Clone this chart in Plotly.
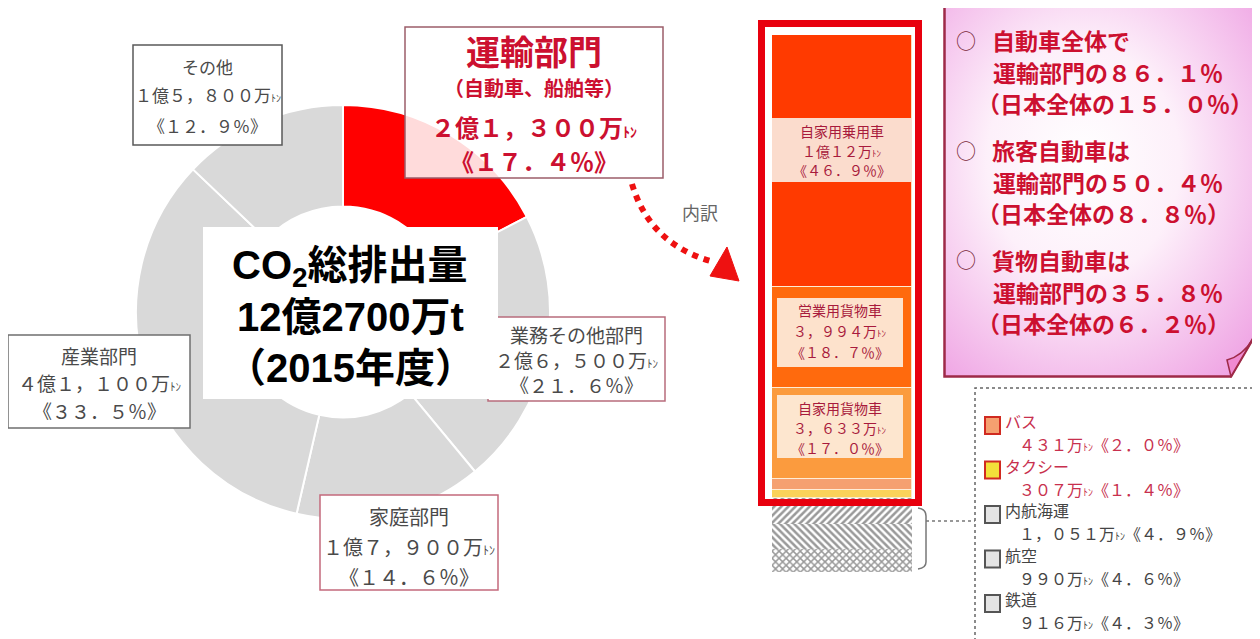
import base64
import plotly.graph_objects as go

# ---------------- data ----------------
sectors = ["運輸部門", "業務その他部門", "家庭部門", "産業部門", "その他"]
sector_amounts = [21300, 26500, 17900, 41100, 15800]      # 万トン
sector_share = [17.4, 21.6, 14.6, 33.5, 12.9]             # %
transport_note = "（自動車、船舶等）"

modes = ["自家用乗用車", "営業用貨物車", "自家用貨物車", "バス", "タクシー", "内航海運", "航空", "鉄道"]
mode_amounts = [10012, 3994, 3633, 431, 307, 1051, 990, 916]   # 万トン
mode_share = [46.9, 18.7, 17.0, 2.0, 1.4, 4.9, 4.6, 4.3]       # 運輸部門に占める%

summary_heads = ["自動車全体で", "旅客自動車は", "貨物自動車は"]
summary_transport = [86.1, 50.4, 35.8]
summary_japan = [15.0, 8.8, 6.2]

total_lines = ["CO<sub>2</sub>総排出量", "12億2700万t", "（2015年度）"]
breakdown_label = "内訳"

# ---------------- styles ----------------
OFF = 8                      # page body margin of the html page
W, H = 1260 - OFF, 639 - OFF
FONT = "Noto Sans CJK JP"
TITLE_FONT = "Liberation Sans, Arial, Noto Sans CJK JP"
GRAY_TXT = "#4a4a4a"
RED_TXT = "#cc1030"
BAR_TXT = "#a81a3c"

sector_colors = ["#ff0000", "#d9d9d9", "#d9d9d9", "#d9d9d9", "#d9d9d9"]
mode_colors = ["#ff3a00", "#ff6a0d", "#fb9b3e", "#f5a070", "#fad25a", "#ffffff", "#ffffff", "#ffffff"]
mode_patterns = ["", "", "", "", "", "/", "\\", "x"]
swatch_fill = ["#f5a070", "#f3e03a", "#e4e4e4", "#e4e4e4", "#e4e4e4"]
swatch_line = ["#d02a20", "#d02a20", "#555555", "#555555", "#555555"]
legend_txt = ["#c8304e", "#c8304e", "#444444", "#444444", "#444444"]


def px(x):
    return (x - OFF) / W


def py(y):
    return 1 - (y - OFF) / H


FWT = str.maketrans("0123456789,.%", "０１２３４５６７８９，．％")


def fw(s):
    return s.translate(FWT)


def ton(size):
    return f"<span style='font-size:{size}px'>ﾄﾝ</span>"


def amount_text(v):
    oku, man = divmod(v, 10000)
    return fw((f"{oku}億" if oku else "") + f"{man:,}万")


def pct_text(p):
    return "《" + fw(f"{p:.1f}%") + "》"


annotations = []
shapes = []


def text(x, y, s, size, color, bold=False, anchor="center", family=FONT):
    annotations.append(dict(
        x=px(x), y=py(y), xref="paper", yref="paper",
        text=(f"<b>{s}</b>" if bold else s), showarrow=False,
        xanchor=anchor, yanchor="middle",
        font=dict(family=family, size=size, color=color)))


def rect(x0, y0, x1, y1, line_color="rgba(0,0,0,0)", width=1.5,
         fill="rgba(0,0,0,0)", dash="solid", layer="above"):
    shapes.append(dict(
        type="rect", xref="paper", yref="paper",
        x0=px(x0), x1=px(x1), y0=py(y1), y1=py(y0),
        line=dict(color=line_color, width=width, dash=dash),
        fillcolor=fill, layer=layer))


def path(segments, color, width, dash="solid", fill="rgba(0,0,0,0)"):
    # segments: list of (cmd, [(x,y),...]) in pixel coords of the page
    d = []
    for cmd, pts in segments:
        d.append(cmd + " " + " ".join(f"{px(x):.5f},{py(y):.5f}" for x, y in pts))
    shapes.append(dict(type="path", xref="paper", yref="paper", path=" ".join(d).strip(),
                       line=dict(color=color, width=width, dash=dash),
                       fillcolor=fill, layer="above"))


fig = go.Figure()

# ---------------- donut ----------------
cx, cy, r = 343, 312, 207
fig.add_trace(go.Pie(
    values=sector_share, labels=sectors, sort=False, direction="clockwise",
    rotation=0, hole=0.51, textinfo="none", showlegend=False,
    marker=dict(colors=sector_colors, line=dict(color="white", width=2)),
    domain=dict(x=[px(cx - r), px(cx + r)], y=[py(cy + r), py(cy - r)])))

# ---------------- stacked bar (運輸部門の内訳) ----------------
for name, share, color, pat in zip(modes, mode_share, mode_colors, mode_patterns):
    fig.add_trace(go.Bar(
        x=["運輸部門"], y=[share], name=name, showlegend=False,
        marker=dict(color=color,
                    line=dict(color="rgba(255,236,214,0.9)", width=0 if pat else 1),
                    pattern=dict(shape=pat, fgcolor="#333333", bgcolor="#ffffff",
                                 size=5, solidity=0.5)),
        hovertemplate=f"{name}: %{{y}}%<extra></extra>"))

# ---------------- pie label boxes ----------------
sector_boxes = {
    "業務その他部門": dict(box=(488, 317, 665, 401), border="#b86c7c", size=19, ys=(334, 359, 384)),
    "家庭部門": dict(box=(320, 495, 498, 590), border="#c46a7c", size=20, ys=(516, 546, 576)),
    "産業部門": dict(box=(8, 335, 190, 428), border="#6f6f6f", size=19, ys=(355, 382, 410)),
    "その他": dict(box=(133, 45, 282, 145), border="#5a5a5a", size=17, ys=(66, 95, 125)),
}
for name, amt, share in zip(sectors, sector_amounts, sector_share):
    if name not in sector_boxes:
        continue
    b = sector_boxes[name]
    x0, y0, x1, y1 = b["box"]
    rect(x0, y0, x1, y1, b["border"], 1.5, fill="#ffffff")
    xc = (x0 + x1) / 2
    s = b["size"]
    text(xc, b["ys"][0], name, s, GRAY_TXT)
    text(xc, b["ys"][1], amount_text(amt) + ton(int(s * 0.6)), s, GRAY_TXT)
    text(xc, b["ys"][2], pct_text(share), s, GRAY_TXT)

# 運輸部門 highlighted box
rect(405, 27, 663, 178, "#9c5e6a", 1.5, fill="rgba(255,255,255,0.86)")
text(534, 50, sectors[0], 34, RED_TXT, bold=True)
text(534, 88, transport_note, 20, RED_TXT, bold=True)
text(534, 127, amount_text(sector_amounts[0]) + ton(14), 24, RED_TXT, bold=True)
text(534, 160, pct_text(sector_share[0]), 24, RED_TXT, bold=True)

# centre title box
rect(203, 227, 498, 399, fill="#ffffff")
for yy, line in zip((268, 317, 368), total_lines):
    text(350, yy, f"<b>{line}</b>", 40, "#000000", family=TITLE_FONT)

# ---------------- arrow ----------------
path([("M", [(632, 184)]), ("Q", [(650, 245), (714, 262)])], "#ee1111", 6, dash="dot")
path([("M", [(727, 247)]), ("L", [(739, 281)]), ("L", [(710, 276)]), ("Z", [])],
     "#ee1111", 1, fill="#ee1111")
text(700, 212, breakdown_label, 18, "#666666")

# ---------------- bar decorations ----------------
rect(772, 118, 912, 182, fill="#fbdccd", width=0)
for yy, s in zip((131, 151, 170), [modes[0], amount_text(mode_amounts[0]) + ton(9), pct_text(mode_share[0])]):
    text(842, yy, s, 14, BAR_TXT)
rect(777, 298, 903, 367, fill="#fde2cc", width=0)
for yy, s in zip((310, 331, 352), [modes[1], amount_text(mode_amounts[1]) + ton(9), pct_text(mode_share[1])]):
    text(840, yy, s, 14, BAR_TXT)
rect(777, 395, 903, 458, fill="#fde6cf", width=0)
for yy, s in zip((408, 428, 448), [modes[2], amount_text(mode_amounts[2]) + ton(9), pct_text(mode_share[2])]):
    text(840, yy, s, 14, BAR_TXT)

# red frame around 自動車
rect(761.5, 23.5, 918.5, 502.5, "#e8000e", 7)

# bracket + connector
path([("M", [(918, 508)]), ("Q", [(926, 509), (926, 516)]), ("L", [(926, 562)]),
      ("Q", [(926, 568), (918, 569)])], "#777777", 1.5)
path([("M", [(926, 521)]), ("L", [(975, 521)])], "#777777", 1.5, dash="3px,3px")

# ---------------- legend (dashed box) ----------------
rect(975, 388, 1256, 650, "#666666", 1.5, dash="3px,3px")
for i, k in enumerate(range(3, len(modes))):
    top = 417 + 44.5 * i
    rect(985, top, 1000, top + 17, swatch_line[i], 2, fill=swatch_fill[i])
    text(1003, top + 4, modes[k], 16, legend_txt[i], anchor="left")
    text(1017, top + 27, amount_text(mode_amounts[k]) + ton(10) + pct_text(mode_share[k]),
         16, legend_txt[i], anchor="left")

# ---------------- summary box ----------------
bw, bh = 312, 373
svg = f'''<svg xmlns="http://www.w3.org/2000/svg" width="{bw}" height="{bh}" viewBox="0 0 {bw} {bh}">
<defs><radialGradient id="g" cx="0.45" cy="0.42" r="0.78">
<stop offset="0" stop-color="#ffffff"/><stop offset="0.4" stop-color="#fdf0fa"/><stop offset="1" stop-color="#ee9ee2"/></radialGradient></defs>
<path d="M1.5,1.5 H{bw-1.5} V{bh-40} L{bw-24},{bh-1.5} H1.5 Z" fill="url(#g)" stroke="#9e2a48" stroke-width="2.5"/>
<path d="M{bw-24},{bh-1.5} L{bw-1.5},{bh-40} Q{bw-12},{bh-22} {bw-28},{bh-18} Z" fill="#f08ad2" stroke="#9e2a48" stroke-width="1.5"/>
</svg>'''
src = "data:image/svg+xml;base64," + base64.b64encode(svg.encode("utf-8")).decode("ascii")
images = [dict(source=src, xref="paper", yref="paper", x=px(943), y=py(5),
               sizex=bw / W, sizey=bh / H, xanchor="left", yanchor="top",
               sizing="stretch", layer="below")]

for i, (head, t, j) in enumerate(zip(summary_heads, summary_transport, summary_japan)):
    y0 = 40 + 110 * i
    text(966, y0, "○", 20, "#7a2a3a")
    text(990, y0, head, 23, RED_TXT, bold=True, anchor="left")
    text(991, y0 + 32, "運輸部門の" + fw(f"{t:.1f}%"), 23, RED_TXT, bold=True, anchor="left")
    text(975, y0 + 63, "（日本全体の" + fw(f"{j:.1f}%") + "）", 23, RED_TXT, bold=True, anchor="left")

fig.update_layout(
    width=W, height=H, margin=dict(l=0, r=0, t=0, b=0),
    paper_bgcolor="white", plot_bgcolor="rgba(0,0,0,0)",
    barmode="stack", bargap=0, showlegend=False,
    xaxis=dict(domain=[px(772), px(912)], range=[-0.5, 0.5], visible=False, fixedrange=True),
    yaxis=dict(domain=[py(573), py(35)], range=[100, 0], visible=False, fixedrange=True),
    shapes=shapes, annotations=annotations, images=images,
    font=dict(family=FONT),
)

fig.write_html("out.html")
